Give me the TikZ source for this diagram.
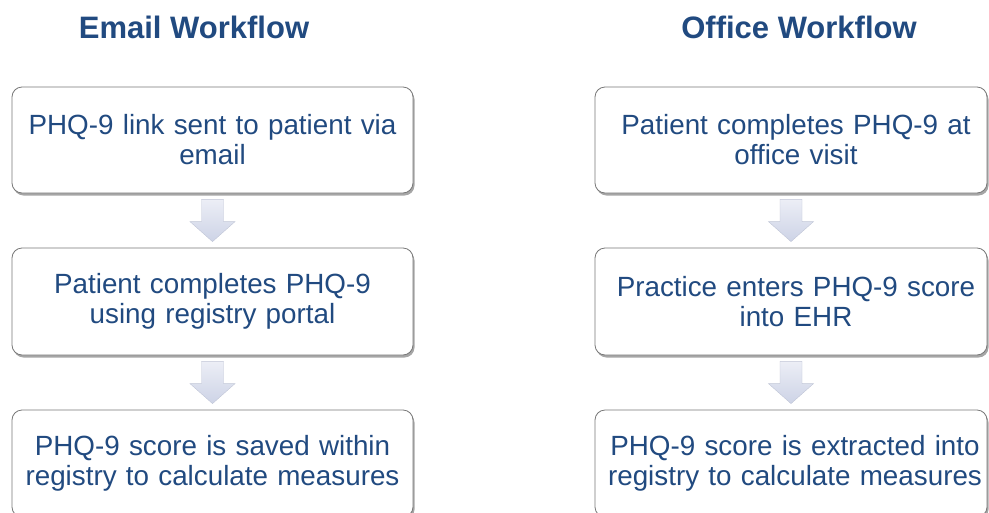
\documentclass[tikz,border=0pt]{standalone}
\usepackage{fontspec}
\setmainfont{Liberation Sans}
\usetikzlibrary{shadows,calc}
\definecolor{txtblue}{RGB}{33,74,128}
\definecolor{boxline}{RGB}{120,120,120}
\definecolor{arrlight}{RGB}{236,238,246}
\definecolor{arrdark}{RGB}{205,211,230}
\begin{document}
\begin{tikzpicture}[x=1pt,y=-1pt,
  title/.style={text=txtblue,font=\fontsize{31}{34}\selectfont\bfseries,inner sep=0pt},
  flowbox/.style={draw=boxline,line width=0.8pt,rounded corners=10pt,fill=white,inner sep=0pt,
    drop shadow={shadow xshift=1.5pt,shadow yshift=-2.5pt,fill=black,opacity=0.35}},
  boxtext/.style={text=txtblue,font=\fontsize{27.8}{30}\selectfont,align=center,inner sep=0pt,text width=390pt},
  arrowfill/.style={top color=arrlight,bottom color=arrdark,draw=arrdark!85!gray,line width=0.4pt}]
\useasboundingbox (0,0) rectangle (989,512);
\fill[white] (0,0) rectangle (989,512);
\begin{scope}
\clip (0,0) rectangle (989,512);
\node[title] (t1) at (194,27) {Email Workflow};
\node[title] (t2) at (799,27) {Office Workflow};

\node[flowbox,minimum width=401pt,minimum height=106pt] (a1) at (212.5,140) {};
\node[flowbox,minimum width=401pt,minimum height=107pt] (a2) at (212.5,301.5) {};
\node[flowbox,minimum width=401pt,minimum height=107pt] (a3) at (212.5,463.5) {};
\node[boxtext] (a1t) at (a1.center) {PHQ-9 link sent to patient via\\email};
\node[boxtext] (a2t) at (a2.center) {Patient completes PHQ-9\\using registry portal};
\node[boxtext] (a3t) at (a3.center) {PHQ-9 score is saved within\\registry to calculate measures};

\node[flowbox,minimum width=392pt,minimum height=106pt] (b1) at (791,140) {};
\node[flowbox,minimum width=392pt,minimum height=107pt] (b2) at (791,301.5) {};
\node[flowbox,minimum width=392pt,minimum height=107pt] (b3) at (791,463.5) {};
\node[boxtext,xshift=5pt] (b1t) at (b1.center) {Patient completes PHQ-9 at\\office visit};
\node[boxtext,xshift=5pt] (b2t) at (b2.center) {Practice enters PHQ-9 score\\into EHR};
\node[boxtext,xshift=4pt] (b3t) at (b3.center) {PHQ-9 score is extracted into\\registry to calculate measures};

\newcommand\flowarrow[2]{%
  \path[arrowfill] let \p1=(#1.south), \p2=(#2.north) in
    (\x1-11pt,\y1-6pt) -- (\x1+11pt,\y1-6pt) -- (\x1+11pt,\y2+26pt) -- (\x1+22.5pt,\y2+26pt)
    -- (\x1,\y2+6pt) -- (\x1-22.5pt,\y2+26pt) -- (\x1-11pt,\y2+26pt) -- cycle;}
\flowarrow{a1}{a2}
\flowarrow{a2}{a3}
\flowarrow{b1}{b2}
\flowarrow{b2}{b3}
\end{scope}
\end{tikzpicture}
\end{document}
